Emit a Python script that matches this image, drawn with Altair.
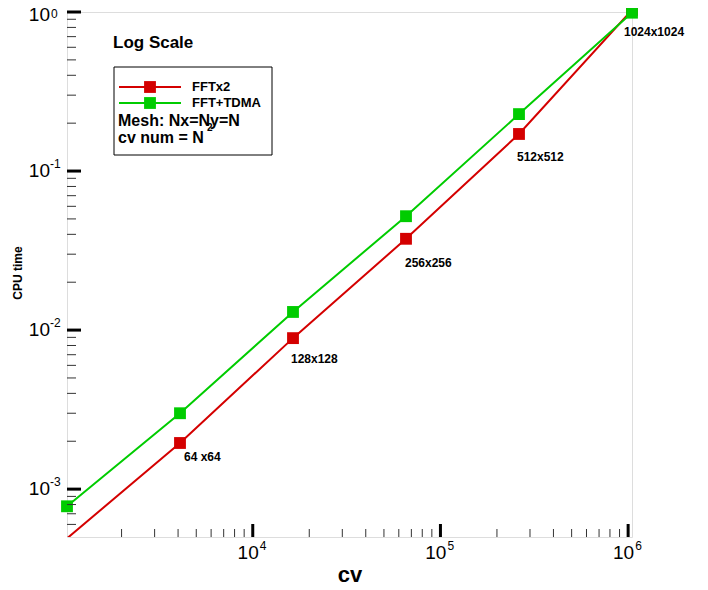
import altair as alt
import pandas as pd

# ---- data ----
cv = [1024, 4096, 16384, 65536, 262144, 1048576]
series_names = ["FFTx2", "FFT+TDMA"]
series_colors = ["#d40000", "#00cc00"]
fft2_time = [4.9e-4, 1.95e-3, 8.9e-3, 0.0375, 0.171, 1.03]
tdma_time = [7.8e-4, 3.0e-3, 0.0130, 0.052, 0.228, 0.99]
mesh_labels = ["", "64 x64", "128x128", "256x256", "512x512", "1024x1024"]

x_major = [1e4, 1e5, 1e6]
x_major_exp = ["4", "5", "6"]
x_minor = [m * d for d in (1e3, 1e4, 1e5) for m in range(2, 10)]
y_major = [1e-3, 1e-2, 1e-1, 1.0]
y_major_exp = ["-3", "-2", "-1", "0"]
y_minor = [m * 1e-4 for m in range(6, 10)] + [m * d for d in (1e-3, 1e-2, 1e-1) for m in range(2, 10)]

W, H = 565, 525
FONT = "Liberation Sans"

rows = []
for name, vals in zip(series_names, [fft2_time, tdma_time]):
    for c, t, lab in zip(cv, vals, mesh_labels):
        rows.append({"cv": c, "time": t, "series": name, "label": lab})
df = pd.DataFrame(rows)

xs = alt.Scale(type="log", domain=[1024, 1048576], nice=False)
ys = alt.Scale(type="log", domain=[5e-4, 1.0], nice=False)
cs = alt.Scale(domain=series_names, range=series_colors)

X = alt.X("cv:Q", scale=xs, title="",
          axis=alt.Axis(labels=False, ticks=False, grid=False,
                        domainColor="black", domainWidth=2.5))
Y = alt.Y("time:Q", scale=ys, title="",
          axis=alt.Axis(labels=False, ticks=False, grid=False,
                        domainColor="black", domainWidth=2.5))

base = alt.Chart(df)
lines = base.mark_line(clip=True, strokeWidth=2).encode(
    x=X, y=Y, color=alt.Color("series:N", scale=cs, legend=None),
    detail="series:N")
points = base.mark_square(size=140, opacity=1).encode(
    x=X, y=Y, color=alt.Color("series:N", scale=cs, legend=None)
).transform_filter("datum.time >= 0.0005")

def ann(label, dx, dy):
    return base.transform_filter(
        (alt.datum.series == series_names[0]) & (alt.datum.label == label)
    ).mark_text(align="left", baseline="middle", fontSize=12, fontWeight="bold",
                font=FONT, dx=dx, dy=dy, color="black").encode(
        x=alt.X("cv:Q", scale=xs, axis=None),
        y=alt.Y("time:Q", scale=ys, axis=None),
        text="label:N")

anns = [ann("64 x64", 4, 14), ann("128x128", -2, 21), ann("256x256", -1, 24),
        ann("512x512", -2, 23), ann("1024x1024", -8, 22)]

# ---- tick marks (inward) ----
xmaj = pd.DataFrame({"v": x_major, "e": x_major_exp})
xmin = pd.DataFrame({"v": x_minor})
ymaj = pd.DataFrame({"v": y_major, "e": y_major_exp})
ymin = pd.DataFrame({"v": y_minor})

XV = alt.X("v:Q", scale=xs, axis=None)
YV = alt.Y("v:Q", scale=ys, axis=None)

xmin_t = alt.Chart(xmin).mark_rule(color="#333333", strokeWidth=1).encode(
    x=XV, y=alt.value(H), y2=alt.value(H - 8))
xmaj_t = alt.Chart(xmaj).mark_rule(color="black", strokeWidth=3).encode(
    x=XV, y=alt.value(H), y2=alt.value(H - 13))
ymin_t = alt.Chart(ymin).mark_rule(color="#333333", strokeWidth=1).encode(
    y=YV, x=alt.value(0), x2=alt.value(9))
ymaj_t = alt.Chart(ymaj).mark_rule(color="black", strokeWidth=3).encode(
    y=YV, x=alt.value(0), x2=alt.value(14))

# ---- tick labels with superscripts ----
xl10 = alt.Chart(xmaj).mark_text(align="right", baseline="middle", fontSize=19,
                                 font=FONT, dx=6, color="black").encode(
    x=XV, y=alt.value(H + 16), text=alt.value("10"))
xlex = alt.Chart(xmaj).mark_text(align="left", baseline="middle", fontSize=12,
                                 font=FONT, dx=7, color="black").encode(
    x=XV, y=alt.value(H + 9), text="e:N")
ymaj_inner = ymaj[ymaj["e"] != "0"]
ymaj_top = ymaj[ymaj["e"] == "0"]
yl10 = alt.Chart(ymaj_inner).mark_text(align="right", baseline="middle", fontSize=19,
                                       font=FONT, color="black").encode(
    y=YV, x=alt.value(-17), text=alt.value("10"))
ylex = alt.Chart(ymaj_inner).mark_text(align="left", baseline="middle", fontSize=12,
                                       font=FONT, dy=-7, color="black").encode(
    y=YV, x=alt.value(-17), text="e:N")
yl10_top = alt.Chart(ymaj_top).mark_text(align="right", baseline="middle", fontSize=19,
                                         font=FONT, dy=3, color="black").encode(
    y=YV, x=alt.value(-17), text=alt.value("10"))
ylex_top = alt.Chart(ymaj_top).mark_text(align="left", baseline="top", fontSize=12,
                                         font=FONT, dx=1, dy=-3, color="black").encode(
    y=YV, x=alt.value(-17), text="e:N")

# ---- axis titles ----
one = pd.DataFrame({"a": [0]})
xtitle = alt.Chart(one).mark_text(align="center", baseline="alphabetic", fontSize=22,
                                  fontWeight="bold", font=FONT, color="black").encode(
    x=alt.value(283), y=alt.value(H + 45), text=alt.value("cv"))
ytitle = alt.Chart(one).mark_text(align="center", baseline="middle", fontSize=12,
                                  fontWeight="bold", font=FONT, angle=270,
                                  color="black").encode(
    x=alt.value(-49), y=alt.value(261), text=alt.value("CPU time"))

# ---- annotation box / legend ----
title_txt = alt.Chart(one).mark_text(align="left", baseline="middle", fontSize=17,
                                     fontWeight="bold", font=FONT, color="black").encode(
    x=alt.value(46), y=alt.value(31), text=alt.value("Log Scale"))
box = alt.Chart(one).mark_rect(fill="white", stroke="black", strokeWidth=1).encode(
    x=alt.value(47), x2=alt.value(205), y=alt.value(55), y2=alt.value(143))

leg_layers = []
for name, color, yy in zip(series_names, series_colors, [75, 91]):
    d = pd.DataFrame({"series": [name]})
    leg_layers.append(alt.Chart(d).mark_rule(color=color, strokeWidth=2).encode(
        x=alt.value(52), x2=alt.value(114), y=alt.value(yy)))
    leg_layers.append(alt.Chart(d).mark_square(color=color, size=140, opacity=1).encode(
        x=alt.value(83), y=alt.value(yy)))
    leg_layers.append(alt.Chart(d).mark_text(align="left", baseline="middle", fontSize=13,
                                             fontWeight="bold", font=FONT, color="black").encode(
        x=alt.value(125), y=alt.value(yy), text="series:N"))

mesh_txt = alt.Chart(one).mark_text(align="left", baseline="middle", fontSize=16,
                                    fontWeight="bold", font=FONT, color="black").encode(
    x=alt.value(51), y=alt.value(109), text=alt.value("Mesh: Nx=Ny=N"))
cvn_txt = alt.Chart(one).mark_text(align="left", baseline="middle", fontSize=16,
                                   fontWeight="bold", font=FONT, color="black").encode(
    x=alt.value(51), y=alt.value(126), text=alt.value("cv num = N"))
cvn_sup = alt.Chart(one).mark_text(align="left", baseline="middle", fontSize=10,
                                   fontWeight="bold", font=FONT, color="black").encode(
    x=alt.value(140), y=alt.value(116), text=alt.value("2"))

chart = alt.layer(
    lines, points, *anns,
    xmin_t, xmaj_t, ymin_t, ymaj_t,
    xl10, xlex, yl10, ylex, yl10_top, ylex_top, xtitle, ytitle,
    title_txt, box, *leg_layers, mesh_txt, cvn_txt, cvn_sup,
).properties(
    width=W, height=H,
    autosize=alt.AutoSizeParams(type="none"),
    padding={"left": 59, "top": 4, "right": 60, "bottom": 50},
).configure_view(stroke=None).configure(font=FONT, background="white")

chart.save("out.html", embed_options={"renderer": "svg", "actions": False})
